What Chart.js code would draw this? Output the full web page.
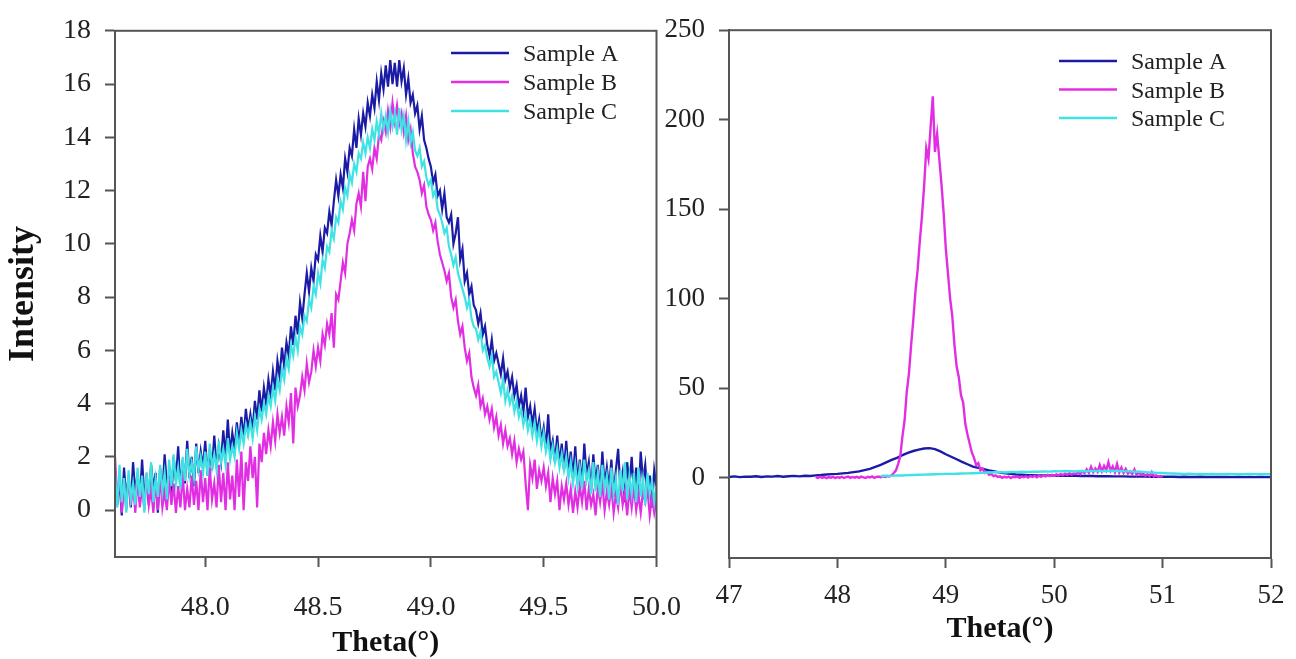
<!DOCTYPE html>
<html>
<head>
<meta charset="utf-8">
<script src="https://cdn.jsdelivr.net/npm/chart.js@4.4.1/dist/chart.umd.min.js"></script>
<style>
  html, body { margin: 0; padding: 0; background: #fff; }
  body { width: 1296px; height: 659px; position: relative; overflow: hidden; }
  canvas { position: absolute; top: 0; }
  #left { left: 0; }
  #right { left: 660px; }
</style>
</head>
<body>
<canvas id="left" width="705" height="659"></canvas>
<canvas id="right" width="637" height="659"></canvas>
<script>
// ---- data ----
const sampleNames = ['Sample A', 'Sample B', 'Sample C'];

// left panel: theta 47.60 .. 50.00, one reading every 0.01
const leftStart = 47.60, leftStep = 0.01;
const leftA = [
  1.5, 0.2, 1.2, -0.2, 1.6,
  0.4, 1.3, 0.1, 1.8, 0.6,
  1.4, 0.3, 1.9, 0.5, 1.1,
  0.2, 1.7, 0.8, 1.4, -0.1,
  1.6, 0.6, 2.1, 0.9, 1.3,
  0.5, 2.0, 1.1, 2.4, 0.8,
  1.9, 1.0, 2.6, 1.2, 2.0,
  0.9, 2.5, 1.4, 2.2, 1.6,
  2.6, 1.3, 2.3, 1.5, 2.8,
  1.6, 2.4, 1.8, 3.0, 2.0,
  3.4, 2.1, 2.9, 2.3, 3.3,
  2.5, 3.5, 2.7, 3.8, 3.0,
  3.6, 3.0, 4.1, 3.4, 4.5,
  3.7, 4.6, 4.0, 4.9, 4.3,
  5.2, 4.5, 5.6, 5.0, 6.1,
  5.4, 6.3, 5.8, 6.9, 6.2,
  7.3, 6.6, 7.8, 7.2, 8.1,
  8.9, 8.2, 9.1, 8.6, 9.6,
  9.4, 10.3, 9.7, 10.6, 10.4,
  11.2, 10.7, 11.6, 12.4, 11.8,
  12.6, 12.1, 13.2, 12.7, 13.6,
  13.3, 14.3, 13.6, 14.7, 14.1,
  14.9, 14.4, 15.3, 14.8, 15.6,
  15.1, 16.1, 15.4, 16.4, 15.8,
  16.7, 15.9, 16.9, 16.0, 16.8,
  15.9, 16.9, 16.1, 16.6, 15.6,
  16.2, 15.3, 15.6, 14.9, 15.2,
  14.3, 14.8, 13.9, 13.6, 13.2,
  12.9, 12.3, 12.6, 11.8, 12.0,
  11.3, 11.9, 11.0, 10.8, 11.1,
  10.0, 10.4, 11.0, 9.4, 9.8,
  8.6, 8.9, 8.1, 8.4, 7.7,
  7.5, 7.0, 7.4, 6.6, 6.9,
  6.2, 5.8, 6.4, 5.6, 5.9,
  5.5, 5.1, 5.7, 4.9, 5.2,
  4.6, 5.0, 4.3, 4.7, 3.9,
  4.3, 3.7, 4.6, 3.5, 3.9,
  3.2, 3.8, 2.9, 3.4, 2.6,
  3.1, 2.3, 3.6, 2.2, 2.6,
  1.8, 2.8, 1.7, 2.5, 1.5,
  2.6, 1.4, 2.2, 1.2, 2.4,
  1.0, 1.9, 0.9, 2.5, 1.3,
  1.8, 0.7, 2.1, 1.0, 1.7,
  0.6, 2.2, 0.9, 1.6, 0.8,
  1.9, 0.5, 1.5, 2.3, 0.8,
  1.4, 0.3, 1.8, 0.9, 2.0,
  0.7, 1.6, 0.4, 2.2, 1.1,
  1.7, 0.5, 1.3, 0.1, 1.5,
  0.9
];
const leftB = [
  2.0, 0.3, 1.4, -0.1, 1.1,
  0.0, 1.3, 0.2, 1.0, -0.1,
  1.2, 0.1, 0.9, 0.0, 1.4,
  0.2, 0.8, -0.1, 1.1, 0.0,
  1.3, 0.1, 0.7, 0.0, 1.2,
  0.2, 1.0, -0.1, 0.9, 0.1,
  1.4, 0.0, 0.8, 0.1, 1.3,
  0.2, 1.1, 0.0, 1.5, 0.3,
  1.2, 0.0, 1.6, 0.4, 1.0,
  0.1, 1.7, 0.3, 1.4, 0.0,
  1.8, 0.4, 1.3, 0.0, 1.9,
  0.5, 2.2, 0.0, 1.8, 1.1,
  2.4, 1.2, 2.0, 0.1, 2.5,
  1.8, 2.9, 2.1, 3.0, 2.4,
  3.3, 2.6, 3.6, 2.9, 3.5,
  2.8, 3.9, 3.3, 4.4, 2.5,
  4.6, 3.9, 4.3, 5.0, 4.5,
  5.5, 4.8, 5.2, 6.0, 5.4,
  6.1, 5.6, 6.6, 6.2, 7.0,
  6.6, 7.4, 6.1, 8.1, 7.9,
  8.6, 9.3, 8.9, 10.0, 10.4,
  10.9, 10.5, 11.5, 11.9, 11.4,
  12.7, 11.6, 12.9, 13.2, 12.8,
  13.6, 13.2, 14.1, 13.9, 14.6,
  14.2, 15.0, 14.4, 15.3, 14.6,
  15.2, 14.5, 14.9, 14.2, 14.8,
  13.9, 14.3, 13.4, 12.9, 12.7,
  12.4, 11.9, 12.2, 11.4, 11.1,
  10.9, 10.5, 10.8, 10.1, 9.6,
  9.3, 9.0, 8.6, 8.9, 8.0,
  7.6, 7.9, 7.1, 6.6, 6.9,
  6.1, 5.6, 5.9, 5.0, 4.6,
  4.3, 4.7, 3.9, 4.2, 3.6,
  3.9, 3.4, 3.8, 3.1, 3.5,
  2.8, 3.2, 2.5, 3.0, 2.4,
  2.7, 2.1, 2.6, 1.8, 2.3,
  1.9, 2.2, 1.0, 0.0, 1.7,
  1.2, 1.9, 0.8, 1.5, 1.1,
  1.6, 0.9, 1.4, 0.3, 1.2,
  0.6, 1.1, 0.0, 0.9, 0.4,
  1.0, 0.2, 0.8, -0.1, 0.7,
  0.1, 0.9, 0.3, 1.1, 0.0,
  0.8, 0.2, 0.6, -0.2, 0.9,
  0.3, 1.0, 0.0, 0.7, 0.2,
  0.9, -0.1, 0.6, 0.1, 1.0,
  0.2, 0.7, -0.2, 0.8, 0.1,
  0.9, 0.0, 0.6, -0.1, 0.7,
  0.3, 0.8, -0.2, 0.5, -0.1,
  0.4
];
const leftC = [
  1.4, 0.1, 1.7, 0.3, 1.2,
  -0.1, 1.5, 0.4, 1.0, 0.2,
  1.6, 0.5, 1.3, -0.1, 1.4,
  0.6, 1.8, 0.3, 1.2, 0.5,
  1.7, 0.7, 1.4, 0.4, 1.9,
  0.9, 2.1, 1.0, 1.6, 0.8,
  2.0, 1.1, 2.3, 1.3, 1.8,
  1.2, 2.4, 1.5, 2.0, 1.4,
  2.2, 1.3, 2.5, 1.6, 2.1,
  1.5, 2.6, 1.8, 2.3, 1.7,
  2.7, 1.9, 2.4, 2.0, 2.9,
  2.3, 3.0, 2.5, 3.2, 2.8,
  3.3, 2.7, 3.5, 3.0, 3.8,
  3.4, 4.0, 3.6, 4.3, 3.9,
  4.6, 4.1, 4.9, 4.5, 5.3,
  4.9, 5.7, 5.3, 6.2, 5.8,
  6.5, 6.0, 6.9, 6.6, 7.3,
  7.1, 7.9, 7.6, 8.4, 8.1,
  8.9, 8.5, 9.4, 9.1, 9.9,
  9.7, 10.5, 10.2, 11.0, 10.8,
  11.6, 11.3, 12.1, 11.8, 12.6,
  12.3, 13.0, 12.7, 13.4, 13.2,
  13.8, 13.4, 14.0, 13.6, 14.3,
  13.9, 14.6, 14.1, 14.9, 14.3,
  14.8, 14.2, 15.0, 14.4, 14.9,
  14.1, 15.1, 14.3, 14.8, 13.9,
  14.6, 13.8, 14.2, 13.5, 13.3,
  13.6, 12.9, 13.1, 12.5, 12.2,
  12.4, 11.8, 12.0, 11.3, 11.1,
  10.8, 10.4, 10.6, 9.9, 9.6,
  9.2, 9.5, 8.9, 8.6, 8.3,
  8.0, 7.6, 7.9, 7.2, 6.9,
  6.8, 6.4, 6.7, 6.0, 6.2,
  5.7, 5.4, 5.8, 5.0, 5.2,
  4.8, 4.4, 4.9, 4.1, 4.5,
  4.0, 4.3, 3.7, 4.1, 3.5,
  3.8, 3.2, 3.6, 3.0, 3.4,
  2.8, 3.3, 2.6, 3.1, 2.4,
  2.9, 2.2, 2.6, 1.9, 2.4,
  1.8, 2.3, 1.6, 2.1, 1.5,
  2.0, 1.2, 1.8, 1.0, 1.7,
  0.9, 1.6, 0.8, 1.9, 1.1,
  1.5, 0.6, 1.8, 0.7, 1.4,
  0.5, 1.7, 0.8, 1.3, 0.4,
  1.6, 0.6, 1.2, 0.2, 1.5,
  0.7, 1.8, 0.4, 1.3, 0.6,
  1.4, 0.3, 1.6, 0.5, 1.2,
  0.2, 1.4, 0.6, 1.1, 0.3,
  0.9
];

// right panel: wider theta range, each sample read at its own spacing
const rightAStart = 47.00, rightAStep = 0.05;
const rightA = [
  0.3, 0.6, 0.2, 0.5, 0.4, 0.7, 0.3, 0.6, 0.5, 0.8,
  0.4, 0.7, 0.9, 0.6, 1.0, 0.8, 1.2, 1.4, 1.7, 1.9,
  2.0, 2.3, 2.6, 3.0, 3.4, 4.1, 4.8, 5.9, 7.0, 8.4,
  9.8, 11.0, 12.5, 13.8, 14.8, 15.6, 16.2, 16.4, 15.9, 14.6,
  13.0, 11.6, 10.2, 8.7, 7.4, 6.1, 5.4, 4.7, 4.0, 3.4,
  2.7, 2.3, 2.0, 1.7, 1.5, 1.3, 1.3, 1.2, 1.2, 1.2,
  1.1, 1.0, 1.0, 0.9, 0.9, 0.8, 0.8, 0.8, 0.7, 0.7,
  0.7, 0.6, 0.6, 0.6, 0.5, 0.5, 0.5, 0.5, 0.4, 0.4,
  0.4, 0.4, 0.4, 0.3, 0.4, 0.3, 0.3, 0.4, 0.3, 0.3,
  0.3, 0.3, 0.3, 0.2, 0.3, 0.2, 0.3, 0.2, 0.3, 0.2,
  0.2
];
const rightBStart = 47.80, rightBStep = 0.02;
const rightB = [
  0.2, -0.3, 0.4, -0.2, 0.3, -0.4, 0.2, -0.1, 0.4, -0.3,
  0.3, -0.2, 0.4, -0.3, 0.2, 0.5, -0.2, 0.3, -0.1, 0.4,
  -0.2, 0.5, 0.1, -0.3, 0.4, 0.0, 0.6, -0.2, 0.3, 0.5,
  0.1, 0.6, 0.3, 0.8, 0.5, 1.2, 2.5, 4.0, 7.5, 12.0,
  23, 32, 48, 58, 74, 88, 104, 116, 132, 146,
  163, 184, 178, 196, 213, 182, 192, 178, 164, 148,
  128, 114, 100, 90, 74, 62, 56, 46, 42, 30,
  24, 19, 14, 11, 7, 8, 4, 5, 2.5, 3,
  1.5, 2.0, 0.8, 1.2, 0.3, 0.6, -0.2, 0.4, 0.0, 0.5,
  -0.3, 0.4, 0.1, 0.6, -0.2, 0.5, 0.2, 0.7, 0.0, 0.8,
  0.3, 0.9, 0.1, 1.0, 0.4, 1.2, 0.6, 1.4, 0.8, 1.5,
  1.0, 1.7, 1.2, 1.9, 1.3, 2.1, 1.5, 2.4, 1.6, 2.2,
  2.0, 2.8, 1.8, 3.5, 2.4, 4.5, 2.6, 6.0, 3.0, 5.0,
  3.2, 7.0, 3.5, 6.5, 4.0, 8.5, 3.8, 6.2, 3.0, 7.5,
  2.8, 5.5, 2.5, 4.8, 2.2, 3.5, 2.0, 4.5, 1.6, 3.0,
  1.4, 2.2, 1.0, 1.8, 0.8, 3.0, 0.6, 1.2, 0.4, 0.8,
  0.3
];
const rightCStart = 48.40, rightCStep = 0.05;
const rightC = [
  0.8, 1.0, 0.9, 1.2, 1.1, 1.3, 1.4, 1.5, 1.6, 1.7,
  1.8, 1.9, 2.0, 2.0, 2.1, 2.2, 2.3, 2.4, 2.5, 2.6,
  2.8, 2.9, 3.0, 2.8, 3.1, 3.0, 3.2, 3.1, 3.3, 3.2,
  3.4, 3.3, 3.5, 3.4, 3.6, 3.5, 3.4, 3.6, 3.5, 3.7,
  3.6, 3.5, 3.8, 3.6, 3.7, 3.5, 3.4, 3.2, 3.3, 3.0,
  2.8, 2.6, 2.5, 2.3, 2.2, 2.1, 2.0, 2.1, 1.9, 2.0,
  1.9, 2.0, 1.8, 1.9, 2.0, 1.8, 1.9, 1.8, 2.0, 1.9,
  1.8, 1.9, 1.8
];

// axis ticks
const leftXTicks = [48.0, 48.5, 49.0, 49.5, 50.0];
const leftYTicks = [0, 2, 4, 6, 8, 10, 12, 14, 16, 18];
const rightXTicks = [47, 48, 49, 50, 51, 52];
const rightYTicks = [0, 50, 100, 150, 200, 250];

// ---- helpers ----
const SERIF = '"Liberation Serif", "Times New Roman", serif';
const AXIS_GREY = '#555';
const colorA = '#1b1ba6', colorB = '#e22ee2', colorC = '#3fe3e3';

function toPoints(start, step, values) {
  return values.map((y, i) => ({ x: +(start + i * step).toFixed(2), y: y }));
}

function makeDatasets(a, b, c, width) {
  return [
    { label: sampleNames[0], data: a, borderColor: colorA, order: 3 },
    { label: sampleNames[1], data: b, borderColor: colorB, order: 2 },
    { label: sampleNames[2], data: c, borderColor: colorC, order: 1 }
  ].map(ds => Object.assign(ds, { borderWidth: width, pointRadius: 0, tension: 0, fill: false }));
}

function makeAxis(opt) {
  return {
    type: 'linear',
    min: opt.min,
    max: opt.max,
    afterBuildTicks: scale => { scale.ticks = opt.ticks.map(v => ({ value: v })); },
    afterFit: scale => {
      if (opt.width) scale.width = opt.width;
      if (opt.height) scale.height = opt.height;
    },
    ticks: {
      autoSkip: false,
      maxRotation: 0,
      padding: opt.labelPad,
      color: '#222',
      font: { family: SERIF, size: opt.fontSize },
      callback: opt.format
    },
    grid: {
      display: true,
      drawOnChartArea: false,
      drawTicks: true,
      tickLength: 10,
      tickWidth: 2,
      tickColor: AXIS_GREY
    },
    border: { display: true, color: AXIS_GREY, width: 2 },
    title: opt.title || { display: false }
  };
}

// box around the plotting area
const framePlugin = {
  id: 'frame',
  afterDatasetsDraw(chart) {
    const { ctx, chartArea: a } = chart;
    ctx.save();
    ctx.strokeStyle = AXIS_GREY;
    ctx.lineWidth = 2;
    ctx.strokeRect(a.left, a.top, a.right - a.left, a.bottom - a.top);
    ctx.restore();
  }
};

// legend drawn inside the plot, line sample then label
const sampleLegend = {
  id: 'sampleLegend',
  afterDraw(chart, args, opts) {
    const ctx = chart.ctx;
    ctx.save();
    ctx.font = opts.fontSize + 'px ' + SERIF;
    ctx.textBaseline = 'middle';
    ctx.fillStyle = '#222';
    chart.data.datasets.forEach((ds, i) => {
      const y = opts.y + i * opts.gap;
      ctx.strokeStyle = ds.borderColor;
      ctx.lineWidth = 2.5;
      ctx.beginPath();
      ctx.moveTo(opts.x, y);
      ctx.lineTo(opts.x + opts.lineLength, y);
      ctx.stroke();
      ctx.fillText(ds.label, opts.x + opts.lineLength + 14, y + 2);
    });
    ctx.restore();
  }
};

function baseOptions(padding, legendPos, scales) {
  return {
    responsive: false,
    animation: false,
    devicePixelRatio: 1,
    layout: { padding: padding },
    plugins: {
      legend: { display: false },
      tooltip: { enabled: false },
      sampleLegend: legendPos
    },
    scales: scales
  };
}

// ---- left panel ----
new Chart(document.getElementById('left'), {
  type: 'line',
  data: {
    datasets: makeDatasets(
      toPoints(leftStart, leftStep, leftA),
      toPoints(leftStart, leftStep, leftB),
      toPoints(leftStart, leftStep, leftC), 2.2)
  },
  options: baseOptions(
    { top: 18, right: 40, bottom: 0, left: 0 },
    { x: 451, y: 53, gap: 29, lineLength: 58, fontSize: 24 },
    {
      x: makeAxis({
        min: 47.6, max: 50.0, ticks: leftXTicks, height: 102, labelPad: 24, fontSize: 28,
        format: v => v.toFixed(1),
        title: { display: true, text: 'Theta(°)', color: '#111', padding: { top: 0, bottom: -2 },
                 font: { family: SERIF, size: 30, weight: 'bold' } }
      }),
      y: makeAxis({
        min: -1.76, max: 18, ticks: leftYTicks, width: 115, labelPad: 14, fontSize: 28,
        format: v => String(v),
        title: { display: true, text: 'Intensity', color: '#111', padding: { top: 2, bottom: 0 },
                 font: { family: SERIF, size: 36, weight: 'bold' } }
      })
    }),
  plugins: [framePlugin, sampleLegend]
});

// ---- right panel ----
new Chart(document.getElementById('right'), {
  type: 'line',
  data: {
    datasets: makeDatasets(
      toPoints(rightAStart, rightAStep, rightA),
      toPoints(rightBStart, rightBStep, rightB),
      toPoints(rightCStart, rightCStep, rightC), 2.4)
  },
  options: baseOptions(
    { top: 20, right: 26, bottom: 0, left: 0 },
    { x: 399, y: 61, gap: 28.5, lineLength: 58, fontSize: 24 },
    {
      x: makeAxis({
        min: 47, max: 52, ticks: rightXTicks, height: 101, labelPad: 12, fontSize: 27,
        format: v => String(v),
        title: { display: true, text: 'Theta(°)', color: '#111', padding: { top: 0, bottom: 12 },
                 font: { family: SERIF, size: 30, weight: 'bold' } }
      }),
      y: makeAxis({
        min: -45, max: 250, ticks: rightYTicks, width: 69, labelPad: 14, fontSize: 27,
        format: v => String(v)
      })
    }),
  plugins: [framePlugin, sampleLegend]
});
</script>
</body>
</html>
